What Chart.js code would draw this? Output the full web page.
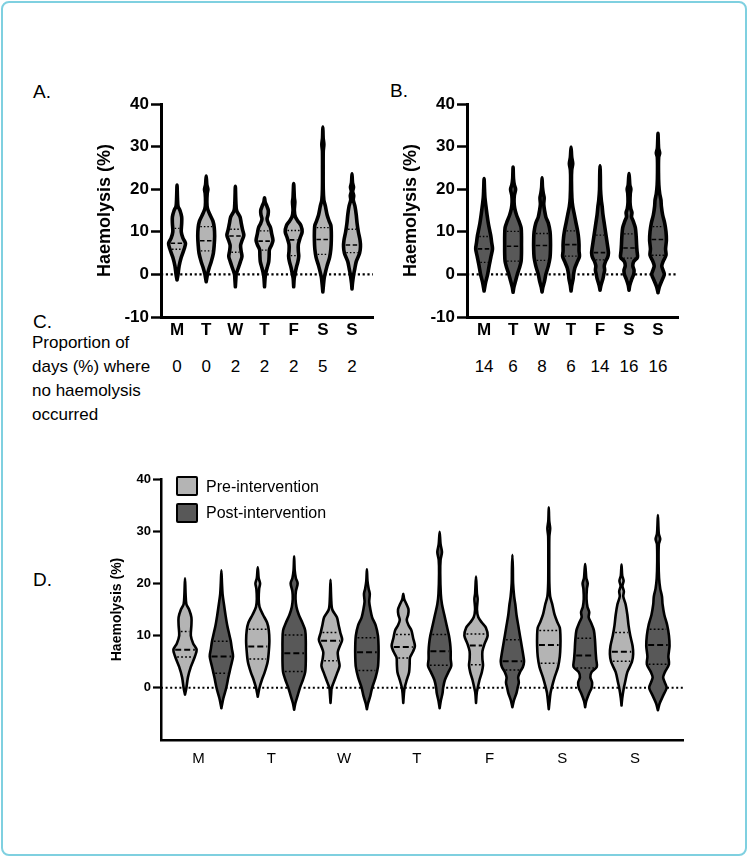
<!DOCTYPE html>
<html><head><meta charset="utf-8">
<script src="https://cdn.jsdelivr.net/npm/chart.js@4.4.1/dist/chart.umd.min.js"></script>
<style>
html,body{margin:0;padding:0;background:#fff;}
#page{position:relative;width:748px;height:857px;overflow:hidden;font-family:"Liberation Sans",Arial,sans-serif;color:#000;}
#frame{position:absolute;left:1px;top:1px;width:742px;height:851px;border:2px solid #7fd0e0;border-radius:8px;}
.lbl{position:absolute;font-size:19px;line-height:19px;white-space:nowrap;}
.ctext{position:absolute;font-size:17px;line-height:24px;white-space:nowrap;}
.num{position:absolute;font-size:17px;line-height:24px;white-space:nowrap;transform:translateX(-50%);}
.lgbox{position:absolute;width:22px;height:20px;box-sizing:border-box;border:2.5px solid #000;border-radius:2px;}
.lgtxt{position:absolute;font-size:16px;line-height:20px;white-space:nowrap;}
canvas{position:absolute;}
</style></head>
<body>
<div id="page">
  <div id="frame"></div>
  <div class="lbl" style="left:33px;top:82px;">A.</div>
  <div class="lbl" style="left:390px;top:81px;">B.</div>
  <div class="lbl" style="left:33px;top:312px;">C.</div>
  <div class="lbl" style="left:33px;top:570px;">D.</div>
  <div class="ctext" style="left:32px;top:331px;">Proportion of<br>days (%) where<br>no haemolysis<br>occurred</div>
  <canvas id="cA" width="330" height="267" style="left:60px;top:80px;"></canvas>
  <canvas id="cB" width="330" height="267" style="left:366px;top:80px;"></canvas>
  <canvas id="cD" width="660" height="320" style="left:60px;top:455px;"></canvas>
  <div class="lgbox" style="left:176px;top:476px;background:#b4b4b4;"></div>
  <div class="lgbox" style="left:176px;top:503px;background:#585858;"></div>
  <div class="lgtxt" style="left:206px;top:477px;">Pre-intervention</div>
  <div class="lgtxt" style="left:206px;top:503px;">Post-intervention</div>
</div>
<script>
// ---------------- DATA ----------------
const DAYS = ['M','T','W','T','F','S','S'];
const Y_TICKS = [-10, 0, 10, 20, 30, 40];
const NO_HAEM_PRE = [0, 0, 2, 2, 2, 5, 2];
const NO_HAEM_POST = [14, 6, 8, 6, 14, 16, 16];

const PRE_MIN = [-1.3, -1.7, -2.9, -2.9, -2.9, -4.1, -3.4];
const PRE_MAX = [21.0, 23.1, 20.7, 18.0, 21.3, 34.6, 23.6];
const PRE_Q1 = [5.9, 5.5, 5.2, 5.7, 4.4, 4.7, 5.1];
const PRE_MEDIAN = [7.3, 7.9, 9.0, 7.8, 8.1, 8.2, 6.9];
const PRE_Q3 = [10.8, 11.2, 10.6, 10.2, 10.3, 11.0, 10.6];
// relative density width [value, width 0..1]
const PRE_SHAPE = [
  [[0,0.12],[2,0.25],[4,0.5],[6,0.85],[7.3,1.0],[8.5,0.7],[10,0.5],[12,0.55],[13.5,0.55],[15,0.35],[16,0.12],[18,0.05]],
  [[0,0.15],[1.5,0.35],[3,0.6],[5,0.85],[7,0.95],[9,1.0],[11,0.95],[12.5,0.8],[14,0.45],[15.5,0.15],[17,0.08],[19,0.12],[20,0.2],[21,0.08]],
  [[-1,0.06],[0,0.1],[1.5,0.35],[3,0.6],[4.2,0.78],[5.5,0.68],[6.8,0.62],[8,0.8],[9.2,1.0],[10.5,0.85],[12,0.7],[13.5,0.55],[15,0.15],[17,0.06]],
  [[-1,0.06],[0,0.12],[1.5,0.3],[3,0.5],[4.5,0.55],[5.8,0.58],[7,0.85],[8,1.0],[9.5,0.85],[11,0.7],[12,0.45],[13,0.3],[14,0.42],[15,0.45],[16,0.28],[17,0.08]],
  [[-1,0.06],[0,0.15],[1.5,0.3],[3,0.5],[4.3,0.6],[5.5,0.55],[7,0.55],[8.5,0.75],[10,1.0],[11.5,0.85],[12.5,0.5],[13.5,0.2],[15,0.08],[17,0.14],[18,0.08]],
  [[-3,0.05],[-1,0.15],[0,0.25],[2,0.5],[4,0.8],[6,0.95],[8,1.0],[10,1.0],[11.5,0.95],[12.5,0.75],[14,0.5],[16,0.3],[17.5,0.12],[20,0.05],[25,0.04],[29,0.05],[30.5,0.12],[32,0.04]],
  [[-2,0.06],[0,0.2],[1,0.3],[3,0.5],[5,0.9],[6.5,1.0],[8,0.95],[10,0.75],[12,0.6],[14,0.5],[16,0.35],[17.5,0.15],[18.5,0.2],[19.5,0.08],[20.5,0.18],[21.5,0.06]]
];

const POST_MIN = [-3.9, -4.2, -4.1, -3.9, -3.7, -3.7, -4.3];
const POST_MAX = [22.5, 25.2, 22.7, 29.9, 25.5, 23.7, 33.1];
const POST_Q1 = [2.8, 3.1, 3.3, 4.3, 3.4, 3.8, 4.5];
const POST_MEDIAN = [6.0, 6.6, 6.8, 7.0, 5.1, 6.2, 8.2];
const POST_Q3 = [8.9, 10.1, 9.6, 10.2, 9.2, 9.5, 11.2];
const POST_SHAPE = [
  [[-2,0.17],[0,0.42],[2,0.6],[3,0.7],[4,0.8],[6,1.0],[7.5,0.9],[9,0.8],[10,0.7],[12,0.5],[14,0.35],[16,0.22],[18,0.1],[20,0.05]],
  [[-3,0.1],[-1.5,0.3],[0,0.5],[1.5,0.75],[3,0.95],[5,1.0],[7,1.0],[9,1.0],[11,0.95],[12.5,0.7],[14,0.4],[15.5,0.2],[17,0.12],[18.5,0.15],[20,0.3],[21,0.15],[22.5,0.05]],
  [[-3,0.1],[-1.5,0.3],[0,0.45],[2,0.75],[4,0.95],[6,1.0],[8,1.0],[10,0.95],[12,0.75],[13.5,0.45],[15,0.3],[16.5,0.2],[18,0.25],[19,0.15],[20.5,0.05]],
  [[-2.5,0.1],[-1,0.25],[0,0.3],[1.5,0.45],[3,0.75],[4.2,1.0],[5.5,0.95],[7,0.95],[8.5,0.9],[10,0.8],[12,0.6],[14,0.4],[16,0.2],[18,0.1],[22,0.05],[24.5,0.08],[26,0.2],[27.5,0.08]],
  [[-2.5,0.12],[-1,0.35],[0,0.45],[1,0.55],[2,0.5],[3,0.65],[4,0.9],[5,1.0],[6,0.95],[8,0.8],[10,0.65],[12,0.5],[14,0.35],[16,0.25],[17.5,0.15],[20,0.06],[23,0.04]],
  [[-2.5,0.1],[-1,0.35],[0,0.55],[1,0.6],[2,0.45],[3,0.55],[4,1.0],[5.5,0.95],[7,0.9],[9,0.85],[11,0.75],[12.5,0.5],[13.5,0.3],[14.5,0.35],[15.5,0.2],[17,0.12],[19,0.15],[20,0.22],[21,0.1],[22.5,0.05]],
  [[-3,0.15],[-1.5,0.45],[0,0.75],[1,0.6],[2,0.45],[3,0.6],[4.5,0.95],[6,0.9],[8,1.0],[10,0.95],[12,0.8],[14,0.55],[16,0.4],[17.5,0.35],[19,0.2],[21,0.1],[24,0.06],[27.5,0.08],[28.5,0.2],[29.5,0.08],[31,0.04]]
];

const PRE_COLOR = '#b4b4b4';
const POST_COLOR = '#585858';

// ---------------- helpers ----------------
function widthAt(knots, y){
  if (y <= knots[0][0]) return knots[0][1];
  for (let i = 1; i < knots.length; i++){
    if (y <= knots[i][0]){
      const a = knots[i-1], b = knots[i];
      return a[1] + (b[1]-a[1])*(y-a[0])/(b[0]-a[0]);
    }
  }
  return knots[knots.length-1][1];
}
function outline(c, lo, hi, knots, half){
  const pts = [{x:c, y:lo}];
  knots.forEach(k => pts.push({x:c + k[1]*half, y:k[0]}));
  pts.push({x:c, y:hi});
  for (let i = knots.length-1; i >= 0; i--) pts.push({x:c - knots[i][1]*half, y:knots[i][0]});
  pts.push({x:c, y:lo});
  return pts;
}
function violinSets(c, lo, hi, knots, q1, med, q3, half, color, bw, inset, medDash, qDash, qlw, mlw){
  const sets = [{
    data: outline(c, lo, hi, knots, half),
    borderColor:'#000', backgroundColor: color, borderWidth: bw,
    fill:'shape', tension:0.3, pointRadius:0, borderJoinStyle:'round', borderCapStyle:'round', order:5
  }];
  [[q1,qDash,qlw],[med,medDash,mlw],[q3,qDash,qlw]].forEach(([v,d,lw]) => {
    const w = Math.max(widthAt(knots, v)*half - inset, 0.02);
    sets.push({data:[{x:c-w,y:v},{x:c+w,y:v}], borderColor:'#000', borderWidth:lw, borderDash:d,
      pointRadius:0, fill:false, tension:0, order:1});
  });
  return sets;
}
function zeroLine(xmin, xmax, lw, dash){
  return {data:[{x:xmin,y:0},{x:xmax,y:0}], borderColor:'#000', borderWidth:lw, borderDash:dash,
    pointRadius:0, fill:false, order:10};
}

Chart.defaults.font.family = '"Liberation Sans", Arial, sans-serif';
Chart.defaults.color = '#000';

function smallPanel(id, mins, maxs, q1s, meds, q3s, shapes, color, xmin, xmax, nums, leftOffset, rightPx){
  const datasets = [zeroLine(xmin, xmax, 2.2, [2.2, 2.6])];
  for (let i = 0; i < 7; i++){
    datasets.push(...violinSets(i, mins[i], maxs[i], shapes[i], q1s[i], meds[i], q3s[i], 0.29, color, 3.6, 0.07, [4.5,2.5], [1.5,2], 1.3, 1.6));
  }
  const ch = new Chart(document.getElementById(id), {
    type:'line',
    data:{datasets},
    options:{
      responsive:false, animation:false, events:[],
      layout:{padding:{top:24, left:0, right: 330 - rightPx, bottom:0}},
      plugins:{legend:{display:false}, tooltip:{enabled:false}},
      scales:{
        x:{type:'linear', min:xmin, max:xmax,
          afterBuildTicks: s => { s.ticks = DAYS.map((d,i)=>({value:i})); },
          afterFit: s => { s.height = 30; },
          grid:{display:false, drawTicks:false},
          border:{display:true, color:'#000', width:3},
          ticks:{autoSkip:false, maxRotation:0, padding:3, font:{size:17, weight:'bold'}, callback:(v)=>DAYS[v]}
        },
        y:{type:'linear', min:-10, max:40,
          afterBuildTicks: s => { s.ticks = Y_TICKS.map(v=>({value:v})); },
          afterFit: s => { s.width = 101; },
          grid:{display:true, drawOnChartArea:false, drawTicks:true, tickLength:10, tickWidth:2.5, tickColor:'#000'},
          border:{display:true, color:'#000', width:3},
          ticks:{padding:2, font:{size:17, weight:'bold'}},
          title:{display:true, text:'Haemolysis (%)', font:{size:18, weight:'bold'}, padding:{top:34, bottom:0}}
        }
      }
    }
  });
  const xs = ch.scales.x;
  nums.forEach((n,i) => {
    const d = document.createElement('div');
    d.className = 'num';
    d.textContent = String(n);
    d.style.left = (leftOffset + xs.getPixelForValue(i)) + 'px';
    d.style.top = '355px';
    document.getElementById('page').appendChild(d);
  });
  return ch;
}

smallPanel('cA', PRE_MIN, PRE_MAX, PRE_Q1, PRE_MEDIAN, PRE_Q3, PRE_SHAPE, PRE_COLOR, -0.55, 6.72, NO_HAEM_PRE, 60, 313);
smallPanel('cB', POST_MIN, POST_MAX, POST_Q1, POST_MEDIAN, POST_Q3, POST_SHAPE, POST_COLOR, -0.59, 6.69, NO_HAEM_POST, 366, 312);

// Panel D
(function(){
  const xmin = -0.66, xmax = 13.69;
  const LABEL_SHIFT = 0.37;
  const datasets = [zeroLine(xmin, xmax, 2, [2, 2.6])];
  for (let i = 0; i < 7; i++){
    datasets.push(...violinSets(2*i, PRE_MIN[i], PRE_MAX[i], PRE_SHAPE[i], PRE_Q1[i], PRE_MEDIAN[i], PRE_Q3[i], 0.32, PRE_COLOR, 2.6, 0.05, [6,3], [1.8,2.2], 1.5, 2));
    datasets.push(...violinSets(2*i+1, POST_MIN[i], POST_MAX[i], POST_SHAPE[i], POST_Q1[i], POST_MEDIAN[i], POST_Q3[i], 0.32, POST_COLOR, 2.6, 0.05, [6,3], [1.8,2.2], 1.5, 2));
  }
  new Chart(document.getElementById('cD'), {
    type:'line',
    data:{datasets},
    options:{
      responsive:false, animation:false, events:[],
      layout:{padding:{top:24, left:0, right: 660 - 623, bottom:0}},
      plugins:{legend:{display:false}, tooltip:{enabled:false}},
      scales:{
        x:{type:'linear', min:xmin, max:xmax,
          afterBuildTicks: s => { s.ticks = DAYS.map((d,i)=>({value:2*i+LABEL_SHIFT})); },
          afterFit: s => { s.height = 35; },
          grid:{display:false, drawTicks:false},
          border:{display:true, color:'#000', width:2.5},
          ticks:{autoSkip:false, maxRotation:0, padding:10, font:{size:15}, callback:(v)=>DAYS[Math.round((v-LABEL_SHIFT)/2)]}
        },
        y:{type:'linear', min:-10, max:40,
          afterBuildTicks: s => { s.ticks = Y_TICKS.map(v=>({value:v})); },
          afterFit: s => { s.width = 101; },
          grid:{display:true, drawOnChartArea:false, drawTicks:true, tickLength:8, tickWidth:2.2,
            tickColor: c => (c.tick && c.tick.value === -10) ? 'rgba(0,0,0,0)' : '#000'},
          border:{display:true, color:'#000', width:2.5},
          ticks:{padding:2, font:{size:13, weight:'bold'}, callback:(v)=> v === -10 ? '' : String(v)},
          title:{display:true, text:'Haemolysis (%)', font:{size:14, weight:'bold'}, padding:{top:49, bottom:0}}
        }
      }
    }
  });
})();
</script>
</body></html>
